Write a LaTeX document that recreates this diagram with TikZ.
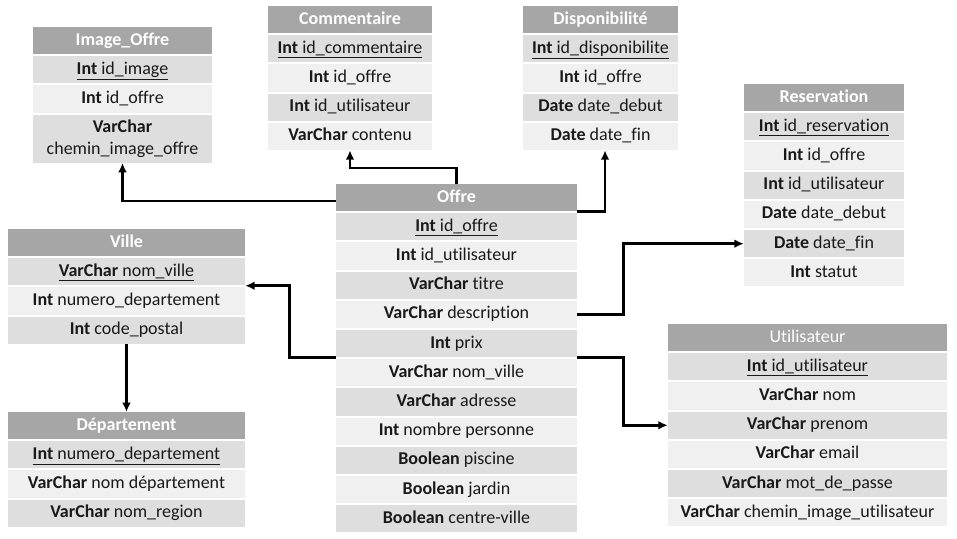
\documentclass[tikz,border=0pt]{standalone}
\usepackage{fontspec}
\setmainfont[Ligatures=NoCommon]{Carlito}
\usepackage{tikz}
\usetikzlibrary{arrows.meta, positioning}

\definecolor{hdrgray}{RGB}{166,166,166}
\definecolor{rowdark}{RGB}{222,222,222}
\definecolor{rowlight}{RGB}{240,240,240}
\newcommand{\tabfont}{\fontsize{13.5}{16}\selectfont}

\begin{document}
\begin{tikzpicture}[x=0.75pt, y=-0.75pt, node distance=1.1pt,
        hdr/.style={rectangle, fill=hdrgray, text=white, font=\tabfont\bfseries, minimum height=20.25pt, inner sep=0pt, text height=9.5pt, text depth=3pt},
        drow/.style={rectangle, fill=rowdark, text=black!90, font=\tabfont, minimum height=20.4pt, inner sep=0pt, text height=9.5pt, text depth=3pt},
        lrow/.style={drow, fill=rowlight},
        arrow/.style={-{Latex[length=7pt, width=6.5pt]}, line width=2pt}]

    \useasboundingbox (0,0) rectangle (957,539);

    % Image_Offre
    \begin{scope}[every node/.append style={minimum width=134.25pt}]
        \node (imgH) [hdr, anchor=north] at (122.5,27) {Image\_Offre};
        \node (imgR1) [drow, below=of imgH] {\underline{\textbf{Int} id\_image}};
        \node (imgR2) [lrow, below=of imgR1] {\textbf{Int} id\_offre};
        \node (imgR3) [drow, below=of imgR2, minimum height=36pt, text height={}, text depth={}, align=center] {\textbf{VarChar}\\chemin\_image\_offre};
    \end{scope}

    % Commentaire
    \begin{scope}[every node/.append style={minimum width=123pt}]
        \node (comH) [hdr, anchor=north] at (350,6) {Commentaire};
        \node (comR1) [drow, below=of comH] {\underline{\textbf{Int} id\_commentaire}};
        \node (comR2) [lrow, below=of comR1] {\textbf{Int} id\_offre};
        \node (comR3) [drow, below=of comR2] {\textbf{Int} id\_utilisateur};
        \node (comR4) [lrow, below=of comR3] {\textbf{VarChar} contenu};
    \end{scope}

    % Disponibilite
    \begin{scope}[every node/.append style={minimum width=116.25pt}]
        \node (dispH) [hdr, anchor=north] at (600.5,6) {Disponibilité};
        \node (dispR1) [drow, below=of dispH] {\underline{\textbf{Int} id\_disponibilite}};
        \node (dispR2) [lrow, below=of dispR1] {\textbf{Int} id\_offre};
        \node (dispR3) [drow, below=of dispR2] {\textbf{Date} date\_debut};
        \node (dispR4) [lrow, below=of dispR3] {\textbf{Date} date\_fin};
    \end{scope}

    % Reservation
    \begin{scope}[every node/.append style={minimum width=120pt}]
        \node (resH) [hdr, anchor=north] at (824,84) {Reservation};
        \node (resR1) [drow, below=of resH] {\underline{\textbf{Int} id\_reservation}};
        \node (resR2) [lrow, below=of resR1] {\textbf{Int} id\_offre};
        \node (resR3) [drow, below=of resR2] {\textbf{Int} id\_utilisateur};
        \node (resR4) [lrow, below=of resR3] {\textbf{Date} date\_debut};
        \node (resR5) [drow, below=of resR4] {\textbf{Date} date\_fin};
        \node (resR6) [lrow, below=of resR5] {\textbf{Int} statut};
    \end{scope}

    % Offre
    \begin{scope}[every node/.append style={minimum width=180.75pt}]
        \node (offreH) [hdr, anchor=north] at (456.5,184) {Offre};
        \node (offreR1) [drow, below=of offreH] {\underline{\textbf{Int} id\_offre}};
        \node (offreR2) [lrow, below=of offreR1] {\textbf{Int} id\_utilisateur};
        \node (offreR3) [drow, below=of offreR2] {\textbf{VarChar} titre};
        \node (offreR4) [lrow, below=of offreR3] {\textbf{VarChar} description};
        \node (offreR5) [drow, below=of offreR4] {\textbf{Int} prix};
        \node (offreR6) [lrow, below=of offreR5] {\textbf{VarChar} nom\_ville};
        \node (offreR7) [drow, below=of offreR6] {\textbf{VarChar} adresse};
        \node (offreR8) [lrow, below=of offreR7] {\textbf{Int} nombre personne};
        \node (offreR9) [drow, below=of offreR8] {\textbf{Boolean} piscine};
        \node (offreR10) [lrow, below=of offreR9] {\textbf{Boolean} jardin};
        \node (offreR11) [drow, below=of offreR10] {\textbf{Boolean} centre-ville};
    \end{scope}

    % Utilisateur
    \begin{scope}[every node/.append style={minimum width=209.25pt}]
        \node (utiH) [hdr, anchor=north, font=\tabfont] at (807.5,324) {Utilisateur};
        \node (utiR1) [drow, below=of utiH] {\underline{\textbf{Int} id\_utilisateur}};
        \node (utiR2) [lrow, below=of utiR1] {\textbf{VarChar} nom};
        \node (utiR3) [drow, below=of utiR2] {\textbf{VarChar} prenom};
        \node (utiR4) [lrow, below=of utiR3] {\textbf{VarChar} email};
        \node (utiR5) [drow, below=of utiR4] {\textbf{VarChar} mot\_de\_passe};
        \node (utiR6) [lrow, below=of utiR5] {\textbf{VarChar} chemin\_image\_utilisateur};
    \end{scope}

    % Ville et Departement
    \begin{scope}[every node/.append style={minimum width=177.75pt}]
        \node (villeH) [hdr, anchor=north] at (126.5,229) {Ville};
        \node (villeR1) [drow, below=of villeH] {\underline{\textbf{VarChar} nom\_ville}};
        \node (villeR2) [lrow, below=of villeR1] {\textbf{Int} numero\_departement};
        \node (villeR3) [drow, below=of villeR2] {\textbf{Int} code\_postal};

        \node (depH) [hdr, anchor=north] at (126.5,412) {Département};
        \node (depR1) [drow, below=of depH] {\underline{\textbf{Int} numero\_departement}};
        \node (depR2) [lrow, below=of depR1] {\textbf{VarChar} nom département};
        \node (depR3) [drow, below=of depR2] {\textbf{VarChar} nom\_region};
    \end{scope}

    \draw [arrow] ([yshift=-2.5pt]offreH.west) -| (imgR3.south);
    \draw [arrow] (offreH.north) -- ++(0,-16) -| (comR4.south);
    \draw [arrow] (offreH.south east) -| ([xshift=3.4pt]dispR4.south);
    \draw [arrow] (offreR4.east) -- ++(46,0) |- (resR5.west);
    \draw [arrow] (offreR5.south east) -- ++(46,0) |- (utiR3.west);
    \draw [arrow] (offreR5.south west) -- ++(-46,0) |- (villeR1.south east);
    \draw [arrow] (villeR3.south) -- (depH.north);
\end{tikzpicture}
\end{document}
